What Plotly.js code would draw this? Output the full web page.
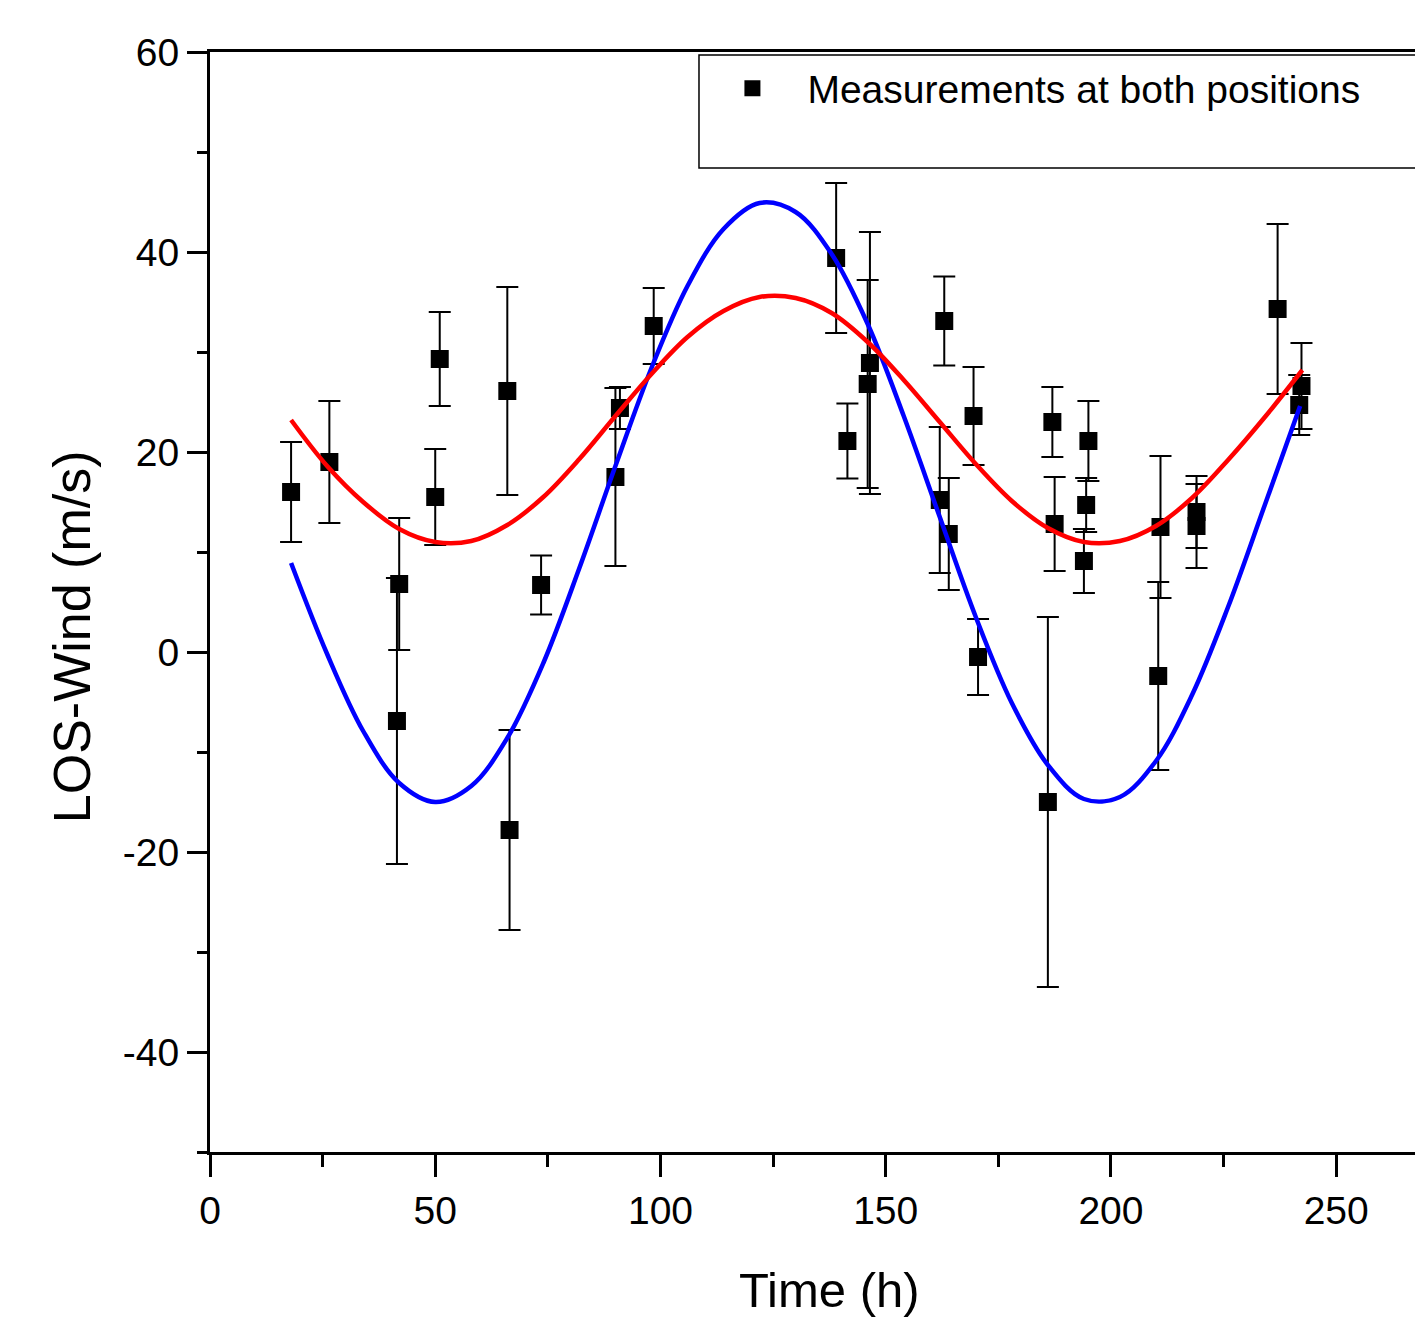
<!DOCTYPE html>
<html>
<head>
<meta charset="utf-8">
<script src="https://cdn.plot.ly/plotly-3.0.1.min.js"></script>
<style>html,body{margin:0;padding:0;background:#fff;}#chart{width:1415px;height:1321px;}</style>
</head>
<body>
<div id="chart"></div>
<script>
const timeH  = [18.0, 26.5, 42.0, 41.5, 50.0, 51.0, 66.0, 66.5, 73.5, 90.0, 91.0, 98.5,
                139.0, 141.5, 146.0, 146.5, 162.0, 163.0, 164.0, 169.5, 170.5,
                186.0, 187.0, 187.5, 194.0, 194.5, 195.0, 210.5, 211.0, 219.0, 219.0,
                237.0, 241.8, 242.3];
const windMs = [16.0, 19.0, 6.8, -6.9, 15.5, 29.3, 26.1, -17.8, 6.7, 17.5, 24.4, 32.6,
                39.4, 21.1, 26.8, 28.9, 15.2, 33.1, 11.8, 23.6, -0.5,
                -15.0, 23.0, 12.8, 9.1, 14.7, 21.1, -2.4, 12.5, 14.0, 12.6,
                34.3, 24.7, 26.6];
const windErr = [5.0, 6.1, 6.6, 14.3, 4.8, 4.7, 10.4, 10.0, 2.95, 8.9, 2.1, 3.8,
                 7.5, 3.75, 10.4, 13.1, 7.3, 4.45, 5.6, 4.9, 3.8,
                 18.5, 3.5, 4.7, 3.2, 2.7, 4.0, 9.4, 7.1, 3.6, 4.2,
                 8.5, 3.0, 4.3];

// Blue fitted curve
const blueTime = [18, 26, 34, 42, 50, 58, 66, 74, 82, 90, 98, 106, 114, 122, 130, 138, 146, 154, 162, 170, 178, 186, 194, 202, 210, 218, 226, 234, 242];
const blueWind = [8.9, -0.2, -7.9, -13.1, -15.0, -13.4, -8.6, -1.1, 8.4, 18.6, 28.4, 36.6, 42.3, 44.9, 44.0, 39.8, 32.8, 23.6, 13.5, 3.5, -5.1, -11.3, -14.7, -14.5, -10.9, -4.3, 4.5, 14.5, 24.6];

// Red fitted curve
const redTime = [18, 26, 34, 42, 50, 58, 66, 74, 82, 90, 98, 106, 114, 122, 130, 138, 146, 154, 162, 170, 178, 186, 194, 202, 210, 218, 226, 234, 242.5];
const redWind = [23.2, 18.6, 15.0, 12.3, 11.0, 11.1, 12.7, 15.5, 19.3, 23.6, 27.8, 31.5, 34.1, 35.5, 35.4, 33.9, 31.0, 27.2, 23.0, 18.8, 15.1, 12.4, 11.0, 11.1, 12.6, 15.4, 19.2, 23.4, 28.2];

const xTicks = [0, 50, 100, 150, 200, 250];
const yTicks = [-40, -20, 0, 20, 40, 60];
const legendLabel = 'Measurements at both positions';
const xTitle = 'Time (h)';
const yTitle = 'LOS-Wind (m/s)';

const FONT = 'Arial, "Liberation Sans", sans-serif';

const traces = [
  {
    type: 'scatter', mode: 'markers', x: timeH, y: windMs, name: legendLabel,
    marker: {symbol: 'square', size: 18, color: '#000'},
    error_y: {type: 'data', array: windErr, visible: true, color: '#000', thickness: 2, width: 11},
    showlegend: true
  },
  {
    type: 'scatter', mode: 'lines', x: blueTime, y: blueWind, name: 'fit 1',
    line: {color: 'rgb(0,0,255)', width: 4.5, shape: 'spline', smoothing: 1}, showlegend: false
  },
  {
    type: 'scatter', mode: 'lines', x: redTime, y: redWind, name: 'fit 2',
    line: {color: 'rgb(255,0,0)', width: 4.5, shape: 'spline', smoothing: 1}, showlegend: false
  }
];

const layout = {
  width: 1415, height: 1321,
  margin: {l: 210, r: 0, t: 52, b: 169, pad: 0},
  paper_bgcolor: '#fff', plot_bgcolor: '#fff',
  font: {family: FONT, color: '#000'},
  showlegend: true,
  legend: {
    x: 0.4045, y: 0.996, xanchor: 'left', yanchor: 'top',
    bgcolor: 'rgba(0,0,0,0)', borderwidth: 0,
    font: {family: FONT, size: 39, color: '#000'},
    itemwidth: 100
  },
  xaxis: {
    range: [0, 267.5], tickvals: xTicks, ticktext: xTicks.map(String),
    showgrid: false, zeroline: false,
    showline: true, linecolor: '#000', linewidth: 3, mirror: true,
    ticks: 'outside', ticklen: 22, tickwidth: 3, tickcolor: '#000',
    tickfont: {family: FONT, size: 39, color: '#000'},
    minor: {dtick: 25, tick0: 0, ticks: 'outside', ticklen: 12, tickwidth: 3, tickcolor: '#000', showgrid: false}
  },
  yaxis: {
    range: [-50, 60], tickvals: yTicks, ticktext: yTicks.map(String),
    showgrid: false, zeroline: false,
    showline: true, linecolor: '#000', linewidth: 3, mirror: false,
    ticks: 'outside', ticklen: 20, tickwidth: 3, tickcolor: '#000',
    tickfont: {family: FONT, size: 39, color: '#000'},
    minor: {dtick: 10, tick0: 0, ticks: 'outside', ticklen: 10, tickwidth: 3, tickcolor: '#000', showgrid: false}
  },
  shapes: [
    {type: 'rect', xref: 'paper', yref: 'paper', x0: 0.4058, x1: 1.02, y0: 0.8945, y1: 0.9973,
     line: {color: '#000', width: 1.5}, fillcolor: 'rgba(0,0,0,0)'}
  ],
  annotations: [
    {text: xTitle, xref: 'paper', yref: 'paper', x: 0.5137, y: -0.1255, xanchor: 'center', yanchor: 'middle',
     showarrow: false, font: {family: FONT, size: 49, color: '#000'}},
    {text: yTitle, xref: 'paper', yref: 'paper', x: -0.1145, y: 0.468, xanchor: 'center', yanchor: 'middle',
     textangle: -90, showarrow: false, font: {family: FONT, size: 52, color: '#000'}}
  ]
};

Plotly.newPlot('chart', traces, layout, {displayModeBar: false, staticPlot: true});
</script>
</body>
</html>
